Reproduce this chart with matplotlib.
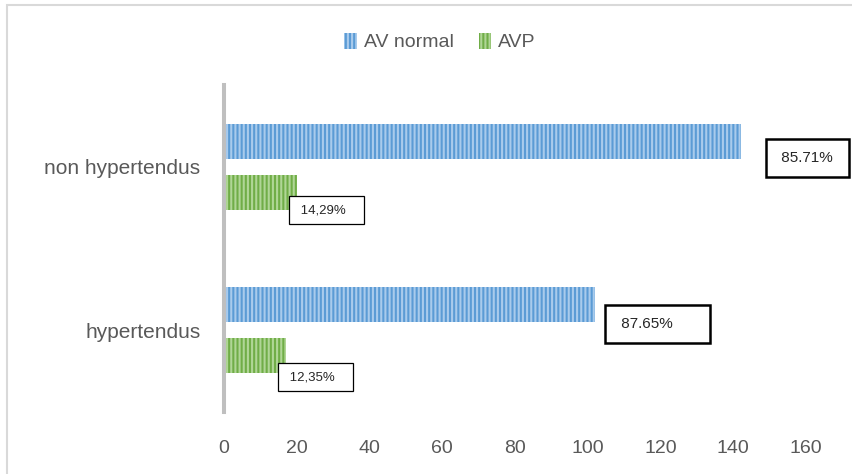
import matplotlib
matplotlib.use("Agg")
import matplotlib.pyplot as plt
from matplotlib.patches import Rectangle

plt.rcParams['font.family'] = ['Liberation Sans', 'DejaVu Sans']
plt.rcParams['hatch.linewidth'] = 1.5

categories = ["hypertendus", "non hypertendus"]
av_normal = [102, 142]
avp = [17, 20]
labels_normal = ["87.65%", "85.71%"]
labels_avp = ["12,35%", "14,29%"]
xticks = [0, 20, 40, 60, 80, 100, 120, 140, 160]

fig = plt.figure(figsize=(8.53, 4.74), dpi=100)
ax = fig.add_axes([0.2626, 0.1308, 0.9449 - 0.2626, 0.8207 - 0.1308])

pos = range(len(categories))
off = 0.156
h = 0.214
y_norm = [p + off for p in pos]
y_avp = [p - off for p in pos]

ax.barh(y_norm, av_normal, height=h, color='#5b9bd5', edgecolor='#a9cbec',
        hatch='||||', linewidth=0, label='AV normal')
ax.barh(y_avp, avp, height=h, color='#70ad47', edgecolor='#b0d696',
        hatch='||||', linewidth=0, label='AVP')

# label boxes (offsets in points from bar end)
big_off = [(15.7, -14), (26.5, -12.2)]
big_trail = ["      ", " "]
small_off = [(0, -15.5), (0, -13)]
for i in pos:
    ax.annotate(" " + labels_normal[i] + big_trail[i],
                xy=(av_normal[i], y_norm[i]), xytext=big_off[i],
                textcoords='offset points', ha='left', va='center',
                fontsize=11, color='#262626', annotation_clip=False,
                bbox=dict(boxstyle='square,pad=0.77', fc='white', ec='black', lw=1.8))
    ax.annotate(" " + labels_avp[i] + "   ",
                xy=(avp[i], y_avp[i]), xytext=small_off[i],
                textcoords='offset points', ha='left', va='center',
                fontsize=9.5, color='#262626', annotation_clip=False,
                bbox=dict(boxstyle='square,pad=0.6', fc='white', ec='black', lw=0.9))

ax.set_xlim(0, 160)
ax.set_ylim(-0.5, 1.5)
ax.set_xticks(xticks)
ax.set_xticklabels([str(t) for t in xticks])
ax.set_yticks(list(pos))
ax.set_yticklabels(categories)
ax.tick_params(axis='x', length=0, pad=20, labelsize=14, labelcolor='#595959')
ax.tick_params(axis='y', length=0, pad=17, labelsize=15, labelcolor='#595959')
for s in ['top', 'right', 'bottom']:
    ax.spines[s].set_visible(False)
ax.spines['left'].set_color('#bfbfbf')
ax.spines['left'].set_linewidth(2.9)

fig.legend(loc='center', bbox_to_anchor=(440 / 853, 1 - 42 / 474), ncol=2,
           frameon=False, fontsize=14, handlelength=0.65, handleheight=0.9,
           handletextpad=0.35, columnspacing=1.3, labelcolor='#595959')

# chart border
fig.add_artist(Rectangle((7 / 853, -0.1), 1.2, 1.1 - 5 / 474, transform=fig.transFigure,
                         fill=False, ec='#d9d9d9', lw=1.5, clip_on=False))

fig.savefig("out.png", dpi=100)
